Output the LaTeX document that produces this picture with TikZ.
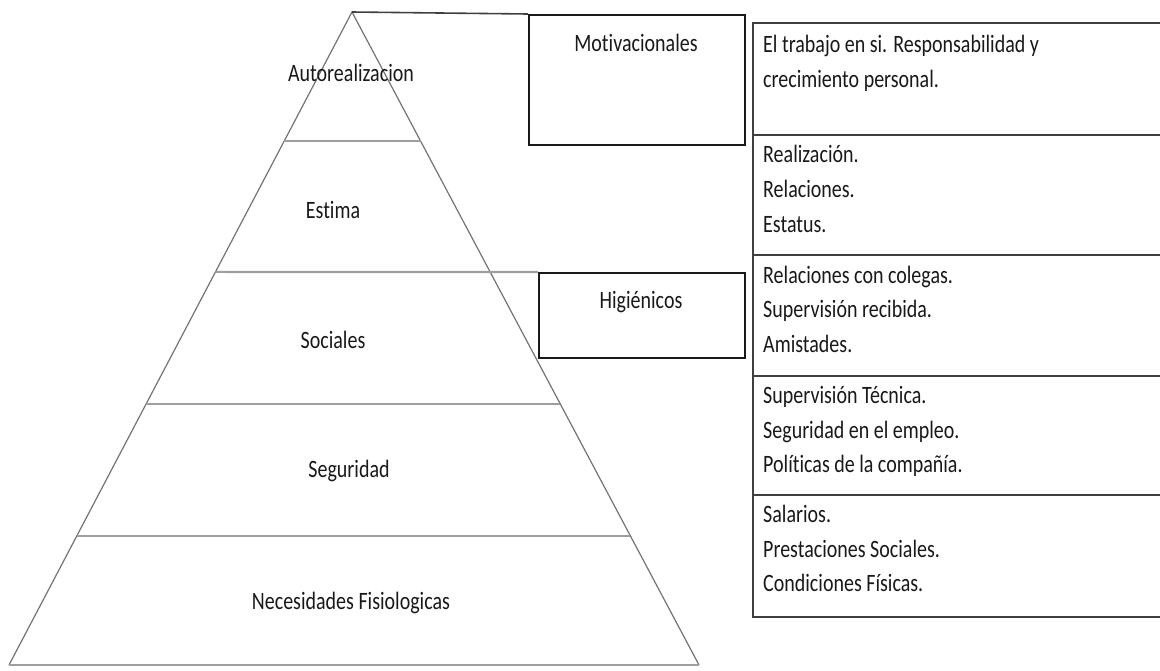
\documentclass[tikz,border=0pt]{standalone}
\usepackage{fontspec}
\setmainfont[FakeStretch=0.8,Ligatures=NoCommon]{Carlito}
\usetikzlibrary{calc}
\begin{document}
\begin{tikzpicture}[x=1pt,y=-1pt, font=\fontsize{25}{28}\selectfont,
  pyr/.style={draw=black!55, line width=1.2pt},
  lvl/.style={draw=black!38, line width=2.2pt},
  boxline/.style={draw=black!90, line width=1.8pt},
  tbl/.style={draw=black!75, line width=2.2pt},
  lab/.style={inner sep=0pt, text=black!90},
  cell/.style={inner sep=0pt, anchor=base west, text=black!90}]
\useasboundingbox (0,0) rectangle (1160,670);
% pyramid
\coordinate (apex) at (352,12);
\coordinate (bl) at (9,665);
\coordinate (br) at (699,665);
\draw[pyr] (bl) -- (apex) -- (br);
\draw[lvl] (bl) -- (br);
\draw[lvl] ($(apex)!0.1975!(bl)$) -- ($(apex)!0.1975!(br)$);
\draw[lvl] ($(apex)!0.600!(bl)$) -- ($(apex)!0.600!(br)$);
\draw[lvl] ($(apex)!0.8025!(bl)$) -- ($(apex)!0.8025!(br)$);
% boxes
\node[boxline, anchor=north west, minimum width=216pt, minimum height=130pt, inner sep=0pt] (mot) at (528,14) {};
\node[boxline, anchor=north west, minimum width=206pt, minimum height=85pt, inner sep=0pt] (hig) at (538,272) {};
\draw[lvl] ($(apex)!0.398!(bl)$) -- (hig.north west);
\draw[draw=black!75, line width=1.6pt] (apex) -- (mot.north west);
\node[lab] (motl) at (636,43) {Motivacionales};
\node[lab] (higl) at (641,302) {Higiénicos};
% pyramid labels
\node[lab] (p1) at (351,73) {Autorealizacion};
\node[lab] (p2) at (333,210) {Estima};
\node[lab] (p3) at (333,340) {Sociales};
\node[lab] (p4) at (349,471) {Seguridad};
\node[lab] (p5) at (351,603) {Necesidades Fisiologicas};
% table
\draw[tbl] (1160,23) -- (753,23) -- (753,617) -- (1160,617);
\foreach \yy in {135,255,376,495} \draw[tbl] (753,\yy) -- (1160,\yy);
\node[cell] (t11) at (763,52) {El trabajo en si. Responsabilidad y};
\node[cell] (t12) at (763,87) {crecimiento personal.};
\node[cell] (t21) at (763,162) {Realización.};
\node[cell] (t22) at (763,197) {Relaciones.};
\node[cell] (t23) at (763,232) {Estatus.};
\node[cell] (t31) at (763,283) {Relaciones con colegas.};
\node[cell] (t32) at (763,317) {Supervisión recibida.};
\node[cell] (t33) at (763,352) {Amistades.};
\node[cell] (t41) at (763,403) {Supervisión Técnica.};
\node[cell] (t42) at (763,438) {Seguridad en el empleo.};
\node[cell] (t43) at (763,472) {Políticas de la compañía.};
\node[cell] (t51) at (763,522) {Salarios.};
\node[cell] (t52) at (763,557) {Prestaciones Sociales.};
\node[cell] (t53) at (763,591) {Condiciones Físicas.};
\end{tikzpicture}
\end{document}
